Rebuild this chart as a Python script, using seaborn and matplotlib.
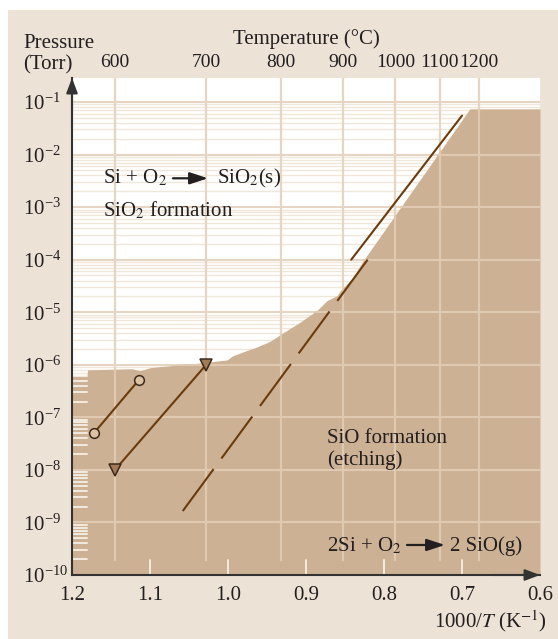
import numpy as np
import matplotlib
matplotlib.use("Agg")
import matplotlib.pyplot as plt
import seaborn as sns
from matplotlib.patches import Rectangle
from matplotlib.ticker import NullLocator
from matplotlib.transforms import blended_transform_factory

# ---------------------------------------------------------------------------
# Data: 1000/T in 1/K, O2 pressure in Torr
# ---------------------------------------------------------------------------
# upper edge of the SiO formation (etching) region
edge_x = [1.200, 1.181, 1.180, 1.123, 1.113, 1.100, 1.062, 1.032, 1.001, 0.994,
          0.981, 0.963, 0.946, 0.930, 0.908, 0.886, 0.873, 0.860, 0.856, 0.840,
          0.827, 0.690, 0.600]
edge_p = [6.2e-7, 6.2e-7, 8.0e-7, 8.4e-7, 7.7e-7, 8.8e-7, 1.0e-6, 1.09e-6,
          1.24e-6, 1.48e-6, 1.75e-6, 2.18e-6, 2.8e-6, 4.0e-6, 6.4e-6, 1.08e-5,
          1.67e-5, 2.07e-5, 2.57e-5, 4.5e-5, 9.4e-5, 7.4e-2, 7.4e-2]

circle_x = [1.172, 1.114]
circle_p = [5.0e-8, 5.2e-7]
tri_x = [1.145, 1.028]
tri_p = [1.0e-8, 1.0e-6]
dash_x = [1.058, 0.821]
dash_p = [1.65e-9, 1.0e-4]
upper_x = [0.842, 0.700]
upper_p = [1.0e-4, 5.5e-2]

x_ticks = [1.2, 1.1, 1.0, 0.9, 0.8, 0.7, 0.6]
x_labels = ["1.2", "1.1", "1.0", "0.9", "0.8", "0.7", "0.6"]
temps_c = [600, 700, 800, 900, 1000, 1100, 1200]
p_exponents = list(range(-1, -11, -1))

# ---------------------------------------------------------------------------
# Style
# ---------------------------------------------------------------------------
PANEL = "#ece2d6"
FILL = "#cdb194"
GRID_MAJOR = "#e6d5c2"
GRID_MINOR = "#f1e6da"
GRID_ON_FILL = "#dfc9b1"
TICK_ON_FILL = "#f4ebe1"
LINE = "#6a3b0c"
INK = "#231f20"
SPINE = "#333333"
FS = 15

sns.set_theme(style="white")
plt.rcParams.update({
    "font.family": ["Liberation Serif", "DejaVu Serif"],
    "mathtext.fontset": "stix",
    "font.size": FS,
    "xtick.labelsize": FS,
    "ytick.labelsize": FS,
    "axes.labelsize": FS,
    "text.color": INK,
    "xtick.color": INK,
    "ytick.color": INK,
    "axes.labelcolor": INK,
})

W, H = 558, 639
fig = plt.figure(figsize=(W / 100, H / 100), dpi=100, facecolor="white")
fig.add_artist(Rectangle((8 / W, 0), 1 - 8 / W, 1 - 10 / H,
                         transform=fig.transFigure, facecolor=PANEL,
                         edgecolor="none", zorder=-10))

ax = fig.add_axes([72 / W, 1 - 575 / H, 468 / W, 497 / H])
ax.set_facecolor("white")
ax.set_yscale("log")
ax.set_xlim(1.2, 0.6)
ax.set_ylim(1e-10, 10 ** (-1 + 24 / 52.56))

x_data_y_axes = blended_transform_factory(ax.transData, ax.transAxes)
x_axes_y_data = blended_transform_factory(ax.transAxes, ax.transData)
temp_x = [1000.0 / (t + 273.15) for t in temps_c]

# background grid (visible over the white region)
for e in p_exponents[:-1]:
    ax.axhline(10.0 ** e, color=GRID_MAJOR, lw=1.5, zorder=0.5)
    for m in range(2, 10):
        ax.axhline(m * 10.0 ** (e - 1), color=GRID_MINOR, lw=1.0, zorder=0.4)
for x in temp_x:
    ax.plot([x, x], [0.03, 1.0], transform=x_data_y_axes,
            color=GRID_MAJOR, lw=1.6, zorder=0.5)

# SiO formation (etching) region
coll = ax.fill_between(edge_x, edge_p, 1e-12, color=FILL, lw=0, zorder=1)
region = coll.get_paths()[0]

# lighter grid drawn inside the shaded region only
clipped = []
for e in p_exponents[:-1]:
    clipped.append(ax.axhline(10.0 ** e, color=GRID_ON_FILL, lw=1.5, zorder=1.2))
for x in temp_x:
    clipped += ax.plot([x, x], [0.03, 1.0], transform=x_data_y_axes,
                       color=GRID_ON_FILL, lw=1.6, zorder=1.2)
for e in p_exponents[:-1]:
    for m in range(2, 10):
        clipped += ax.plot([0, 15 / 468], [m * 10.0 ** (e - 1)] * 2,
                           transform=x_axes_y_data, color=TICK_ON_FILL,
                           lw=1.4, zorder=1.3)
for art in clipped:
    art.set_clip_path(region, ax.transData)
for x in x_ticks[1:-1]:
    ax.plot([x, x], [0, 15 / 497], transform=x_data_y_axes,
            color=TICK_ON_FILL, lw=1.4, zorder=1.3)

# measured / extrapolated boundaries
sns.lineplot(x=circle_x, y=circle_p, ax=ax, color=LINE, linewidth=1.5,
             marker="o", markersize=7, markerfacecolor="#dcc1a3",
             markeredgecolor="#3b2a1b", markeredgewidth=1.1,
             sort=False, errorbar=None, zorder=3)
sns.lineplot(x=tri_x, y=tri_p, ax=ax, color=LINE, linewidth=1.5,
             marker="v", markersize=8, markerfacecolor="#a27a55",
             markeredgecolor="#3b2a1b", markeredgewidth=1.1,
             sort=False, errorbar=None, zorder=3)
sns.lineplot(x=dash_x, y=dash_p, ax=ax, color=LINE, linewidth=1.5,
             linestyle=(0, (25.0, 6.3)), sort=False, errorbar=None, zorder=3)
sns.lineplot(x=upper_x, y=upper_p, ax=ax, color=LINE, linewidth=1.5,
             sort=False, errorbar=None, zorder=3)

# axes, ticks
ax.set_xlabel("")
ax.set_ylabel("")
ax.spines[["top", "right"]].set_visible(False)
for s in ("left", "bottom"):
    ax.spines[s].set_color(SPINE)
    ax.spines[s].set_linewidth(1.5)
ax.set_xticks(x_ticks)
ax.set_xticklabels(x_labels)
ax.set_yticks([10.0 ** e for e in p_exponents])
ax.yaxis.set_minor_locator(NullLocator())
ax.tick_params(axis="x", which="major", length=0, pad=8)
ax.tick_params(axis="y", which="major", length=0, pad=35)
for lab in ax.get_yticklabels():
    lab.set_horizontalalignment("left")

arrow_kw = dict(arrowstyle="-|>,head_length=0.45,head_width=0.17",
                color=SPINE, lw=1.5, shrinkA=0, shrinkB=0, mutation_scale=20)
ax.annotate("", xy=(0, 1), xytext=(0, 0.9), xycoords="axes fraction",
            arrowprops=arrow_kw, annotation_clip=False)
ax.annotate("", xy=(1, 0), xytext=(0.9, 0), xycoords="axes fraction",
            arrowprops=arrow_kw, annotation_clip=False)


def to_celsius(x):
    x = np.asarray(x, dtype=float)
    with np.errstate(divide="ignore", invalid="ignore"):
        return 1000.0 / x - 273.15


def to_inverse(t):
    t = np.asarray(t, dtype=float)
    with np.errstate(divide="ignore", invalid="ignore"):
        return 1000.0 / (t + 273.15)


top = ax.secondary_xaxis("top", functions=(to_celsius, to_inverse))
top.set_xticks(temps_c)
top.set_xticklabels([str(t) for t in temps_c])
top.tick_params(length=0, pad=5, labelsize=14)
top.spines["top"].set_visible(False)
top.set_xlabel("Temperature (°C)", labelpad=7)

# reaction labels
react_arrow = dict(arrowstyle="-|>,head_length=0.55,head_width=0.18",
                   color=INK, lw=1.6, shrinkA=0, shrinkB=0, mutation_scale=20)
ax.text(0.0662, 0.7881, "Si + O$_2$", transform=ax.transAxes, va="baseline")
ax.annotate("", xy=(0.2906, 0.7982), xytext=(0.2158, 0.7982),
            xycoords="axes fraction", arrowprops=react_arrow)
ax.text(0.3098, 0.7881, "SiO$_2$(s)", transform=ax.transAxes, va="baseline")
ax.text(0.0662, 0.7209, "SiO$_2$ formation", transform=ax.transAxes,
        va="baseline")
ax.text(0.5449, 0.2662, "SiO formation", transform=ax.transAxes, va="baseline")
ax.text(0.5449, 0.2213, "(etching)", transform=ax.transAxes, va="baseline")
ax.text(0.5449, 0.0483, "2Si + O$_2$", transform=ax.transAxes, va="baseline")
ax.annotate("", xy=(0.7970, 0.0604), xytext=(0.7158, 0.0604),
            xycoords="axes fraction", arrowprops=react_arrow)
ax.text(0.8077, 0.0483, "2 SiO(g)", transform=ax.transAxes, va="baseline")

fig.text(23 / W, 1 - 48 / H, "Pressure", va="baseline", ha="left")
fig.text(23 / W, 1 - 69 / H, "(Torr)", va="baseline", ha="left")
fig.text(547 / W, 1 - 627 / H, "1000/$T$ (K$^{-1}$)", va="baseline", ha="right")

fig.savefig("out.png", dpi=100, facecolor=fig.get_facecolor())
